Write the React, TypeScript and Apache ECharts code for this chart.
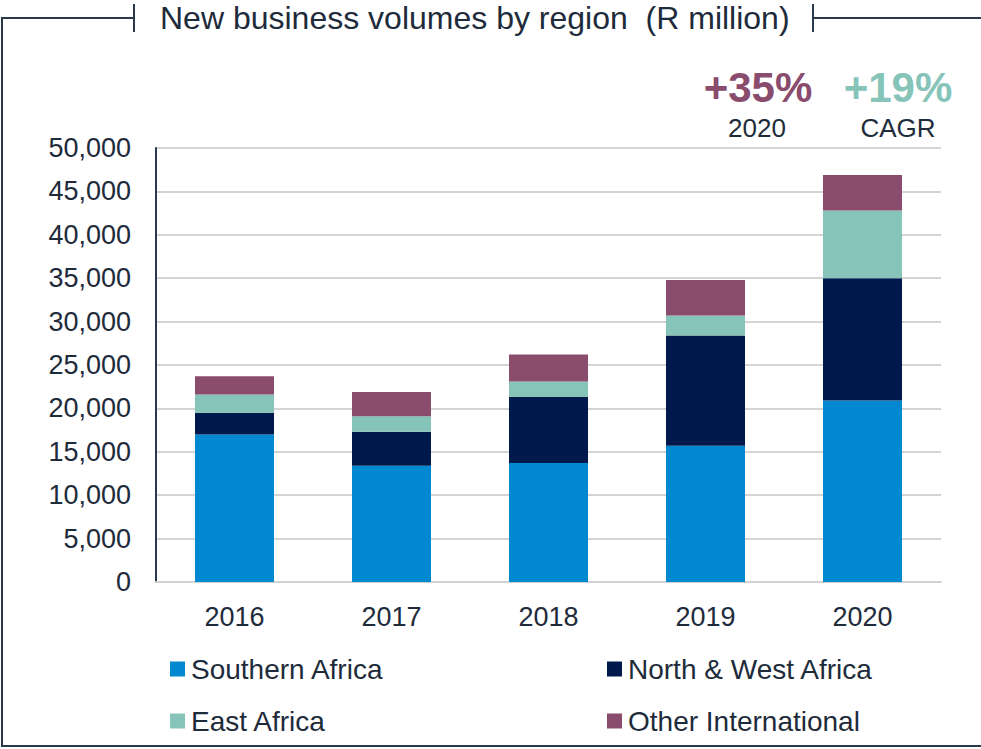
import React, { useEffect, useRef } from "react";
import * as echarts from "echarts";

const years = ["2016", "2017", "2018", "2019", "2020"];
const southernAfrica = [17000, 13400, 13700, 15700, 20900];
const northWestAfrica = [2500, 3900, 7600, 12700, 14100];
const eastAfrica = [2100, 1800, 1800, 2300, 7800];
const otherInternational = [2100, 2800, 3100, 4100, 4100];
const seriesNames = ["Southern Africa", "North & West Africa", "East Africa", "Other International"];
const colors = ["#0089D1", "#00194C", "#86C4B9", "#8A4C6D"];
const titleText = "New business volumes by region  (R million)";
const growth2020 = "+35%";
const growthCagr = "+19%";

const FONT = "'Liberation Sans', Arial, sans-serif";
const TEXT = "#1E2B3B";
const FRAME = "#2B3A4A";

export default function App() {
  const ref = useRef<HTMLDivElement>(null);
  useEffect(() => {
    if (!ref.current) return;
    const chart = echarts.init(ref.current, null, { renderer: "svg" });
    const values = [southernAfrica, northWestAfrica, eastAfrica, otherInternational];
    const legendPos = [
      { left: 170, top: 655 },
      { left: 607, top: 655 },
      { left: 170, top: 707 },
      { left: 607, top: 707 },
    ];
    chart.setOption({
      animation: false,
      textStyle: { fontFamily: FONT },
      title: {
        text: titleText,
        left: 160,
        top: 2,
        padding: 0,
        textStyle: { fontFamily: FONT, fontSize: 32, fontWeight: "normal", color: TEXT },
      },
      legend: seriesNames.map((n, i) => ({
        data: [n],
        left: legendPos[i].left,
        top: legendPos[i].top,
        padding: 0,
        icon: "rect",
        itemWidth: 15,
        itemHeight: 15,
        selectedMode: false,
        textStyle: { fontFamily: FONT, fontSize: 28, color: TEXT, padding: [0, 0, 0, 1] },
      })),
      grid: { left: 156, right: 40, top: 148, bottom: 167, containLabel: false },
      xAxis: {
        type: "category",
        data: years,
        axisLine: { lineStyle: { color: "#D2D2D2", width: 2 } },
        axisTick: { show: false },
        axisLabel: { fontFamily: FONT, fontSize: 27, color: TEXT, margin: 21 },
      },
      yAxis: {
        type: "value",
        min: 0,
        max: 50000,
        interval: 5000,
        axisLine: { show: true, lineStyle: { color: FRAME, width: 2 } },
        axisTick: { show: false },
        splitLine: { lineStyle: { color: "#D4D4D4", width: 2 } },
        axisLabel: {
          fontFamily: FONT,
          fontSize: 27,
          color: TEXT,
          margin: 25,
          formatter: (v: number) => v.toLocaleString("en-US"),
        },
      },
      series: seriesNames.map((n, i) => ({
        name: n,
        type: "bar",
        stack: "total",
        barWidth: 79,
        itemStyle: { color: colors[i] },
        data: values[i],
      })),
      graphic: [
        {
          type: "polyline",
          shape: { points: [[134, 18], [2, 18], [2, 746], [981, 746]] },
          style: { stroke: FRAME, lineWidth: 2, fill: null },
        },
        {
          type: "line",
          shape: { x1: 813, y1: 18, x2: 981, y2: 18 },
          style: { stroke: FRAME, lineWidth: 2 },
        },
        {
          type: "line",
          shape: { x1: 134, y1: 4, x2: 134, y2: 32 },
          style: { stroke: FRAME, lineWidth: 2 },
        },
        {
          type: "line",
          shape: { x1: 813, y1: 4, x2: 813, y2: 32 },
          style: { stroke: FRAME, lineWidth: 2 },
        },
        {
          type: "text",
          x: 758,
          y: 87,
          style: {
            text: growth2020,
            fill: colors[3],
            font: `bold 42px ${FONT}`,
            textAlign: "center",
            textVerticalAlign: "middle",
          },
        },
        {
          type: "text",
          x: 757,
          y: 128,
          style: {
            text: "2020",
            fill: TEXT,
            font: `26px ${FONT}`,
            textAlign: "center",
            textVerticalAlign: "middle",
          },
        },
        {
          type: "text",
          x: 898,
          y: 87,
          style: {
            text: growthCagr,
            fill: colors[2],
            font: `bold 42px ${FONT}`,
            textAlign: "center",
            textVerticalAlign: "middle",
          },
        },
        {
          type: "text",
          x: 898,
          y: 128,
          style: {
            text: "CAGR",
            fill: TEXT,
            font: `26px ${FONT}`,
            textAlign: "center",
            textVerticalAlign: "middle",
          },
        },
      ],
    });
    return () => chart.dispose();
  }, []);
  return (
    <div
      ref={ref}
      style={{ position: "absolute", left: 0, top: 0, width: 981, height: 749, background: "#ffffff" }}
    />
  );
}
